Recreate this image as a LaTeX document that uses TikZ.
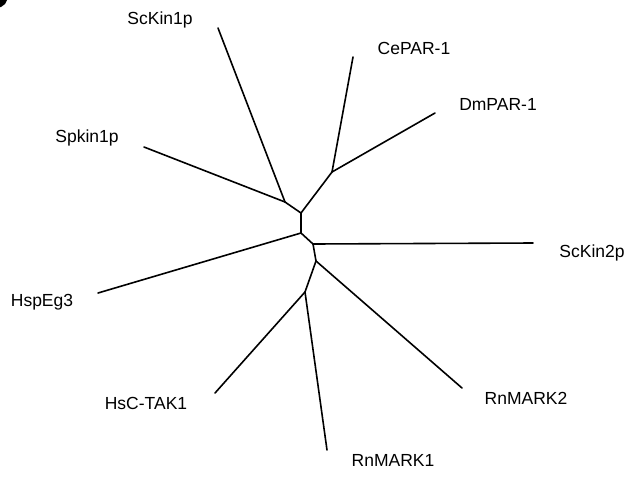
\documentclass[tikz,border=0pt]{standalone}
\usepackage{fontspec}
\setmainfont{Liberation Sans}
\begin{document}
\begin{tikzpicture}[x=1pt,y=-1pt,
  branch/.style={line width=1.6pt,line cap=round,line join=round,black},
  taxon/.style={font=\fontsize{17.5}{20}\selectfont,inner sep=0pt,anchor=center,text=black}]
\useasboundingbox[fill=white] (0,0) rectangle (628,477);
% cropped panel mark
\fill[black] (0,0) -- (7,0) -- (5,4) -- (1,7) -- (0,7) -- cycle;
% internal nodes
\coordinate (j1) at (285,202);
\coordinate (a) at (301,213);
\coordinate (j2) at (332,172);
\coordinate (b) at (301,233);
\coordinate (c) at (313,244);
\coordinate (d) at (316,261);
\coordinate (j3) at (305,292);
% leaf ends
\coordinate (lScKin1) at (218,28);
\coordinate (lSpkin1) at (144,147);
\coordinate (lCePAR) at (353,57);
\coordinate (lDmPAR) at (435,113);
\coordinate (lHspEg3) at (98,293);
\coordinate (lScKin2) at (533,243);
\coordinate (lRnMARK2) at (462,388);
\coordinate (lHsCTAK1) at (215,393);
\coordinate (lRnMARK1) at (327,450);
% labels
\node[taxon] (tScKin1) at (160,20) {ScKin1p};
\node[taxon] (tSpkin1) at (87,138) {Spkin1p};
\node[taxon] (tCePAR) at (414,48) {CePAR-1};
\node[taxon] (tDmPAR) at (498,104) {DmPAR-1};
\node[taxon] (tHspEg3) at (42,302) {HspEg3};
\node[taxon] (tScKin2) at (592,253) {ScKin2p};
\node[taxon] (tRnMARK2) at (526,398) {RnMARK2};
\node[taxon] (tHsCTAK1) at (146,403) {HsC-TAK1};
\node[taxon] (tRnMARK1) at (393,460) {RnMARK1};
% branches
\draw[branch] (lScKin1) -- (j1);
\draw[branch] (lSpkin1) -- (j1);
\draw[branch] (j1) -- (a);
\draw[branch] (a) -- (j2);
\draw[branch] (j2) -- (lCePAR);
\draw[branch] (j2) -- (lDmPAR);
\draw[branch] (a) -- (b);
\draw[branch] (b) -- (lHspEg3);
\draw[branch] (b) -- (c);
\draw[branch] (c) -- (lScKin2);
\draw[branch] (c) -- (d);
\draw[branch] (d) -- (lRnMARK2);
\draw[branch] (d) -- (j3);
\draw[branch] (j3) -- (lHsCTAK1);
\draw[branch] (j3) -- (lRnMARK1);
\end{tikzpicture}
\end{document}
